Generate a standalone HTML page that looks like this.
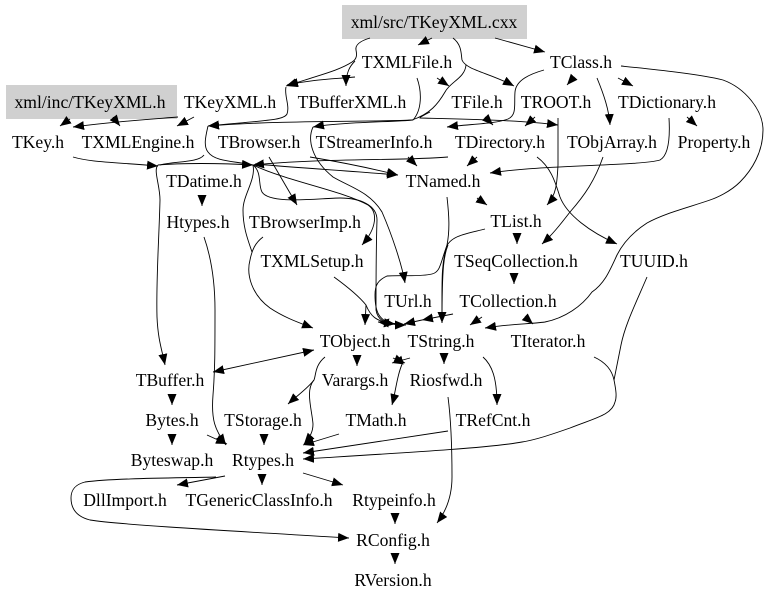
<!DOCTYPE html>
<html><head><meta charset="utf-8"><style>
html,body{margin:0;padding:0;background:#fff}
svg{display:block}
text{font-family:"Liberation Serif",serif;font-size:17.6px;text-anchor:middle;fill:#000}
path.e{fill:none;stroke:#000;stroke-width:.9;marker-end:url(#a)}
path.n{fill:none;stroke:#000;stroke-width:.9}
</style></head><body>
<svg width="779" height="601" viewBox="0 0 779 601" xmlns="http://www.w3.org/2000/svg">
<defs><marker id="a" markerUnits="userSpaceOnUse" markerWidth="12" markerHeight="10" refX="11" refY="4.5" orient="auto"><path d="M0,0L11,4.5L0,9z" fill="#000"/></marker>
<marker id="b" markerUnits="userSpaceOnUse" markerWidth="12" markerHeight="10" refX="11" refY="4.5" orient="auto-start-reverse"><path d="M0,0L11,4.5L0,9z" fill="#000"/></marker></defs>
<rect x="342" y="5" width="185" height="34" fill="#d0d0d0"/>
<rect x="6" y="85" width="171" height="34" fill="#d0d0d0"/>

<path class="e" d="M432,38L418,45"/>
<path class="e" d="M495,38L545,52"/>
<path class="n" d="M370,38C360,41 355,45 356,50C357,55 357,59 352,62"/>
<path class="e" d="M352,62C340,70 320,75 305,80L286,86"/>
<path class="e" d="M355,61C350,66 346,72 346,86"/>
<path class="e" d="M355,77C335,79 315,79 287,85"/>
<path class="e" d="M286,87C284,95 290,106 287,114C284,120 270,120 208,126"/>
<path class="e" d="M437,78L449,86"/>
<path class="e" d="M453,38C462,45 461,54 462,60C466,70 490,73 514,86"/>
<path class="e" d="M466,65C465,78 450,82 445,92C438,104 430,114 412,120C380,122 280,120 208,126"/>
<path class="e" d="M574,77L567,85"/>
<path class="e" d="M597,78C604,95 609,110 610,125"/>
<path class="e" d="M618,78L633,86"/>
<path class="e" d="M621,66C650,69 700,74 723,80C745,88 763,110 763,130C763,152 752,170 740,182C730,192 716,198 710,200C690,207 665,213 647,223C630,234 622,245 617,255C610,270 605,283 592,292C582,306 565,318 545,322C530,324 510,324 485,328"/>
<path class="e" d="M544,70C530,74 516,80 515,92C514,105 517,115 508,119C495,124 470,124 447,127"/>
<path class="e" d="M687,117L697,126"/>
<path class="e" d="M669,118C670,135 669,155 660,160C640,166 540,165 490,173"/>
<path class="e" d="M485,117L493,125"/>
<path class="e" d="M430,112C424,115 420,117 420,118C460,119 520,120 558,125"/>
<path class="e" d="M535,117L525,126"/>
<path class="e" d="M558,118L558,165C557,185 556,195 547,205"/>
<path class="e" d="M417,78C422,92 422,110 413,120C395,122 340,122 313,127"/>
<path class="e" d="M70,119L60,126"/>
<path class="e" d="M178,117C140,120 110,122 73,127"/>
<path class="e" d="M113,117L120,126"/>
<path class="e" d="M194,117L177,126"/>
<path class="e" d="M73,157C90,162 110,162 158,166"/>
<path class="e" d="M158,165C153,170 160,185 160,200C159,240 156,280 157,317C158,340 162,350 165,365"/>
<path class="e" d="M158,165C180,163 220,163 253,165"/>
<path class="n" d="M204,155C198,163 175,161 160,165"/>
<path class="n" d="M208,126C206,135 203,146 208,152C215,162 235,161 253,165"/>
<path class="e" d="M255,164C300,168 350,171 398,175"/>
<path class="e" d="M310,157C340,162 370,168 398,175"/>
<path class="e" d="M448,157C400,161 320,158 253,165"/>
<path class="e" d="M408,157L417,166"/>
<path class="e" d="M477,157L467,166"/>
<path class="e" d="M269,157L297,205"/>
<path class="e" d="M253,165C290,182 340,190 368,205C378,212 377,228 362,245"/>
<path class="e" d="M253,165C262,172 258,185 262,192C270,205 320,198 340,198C360,198 377,205 377,220C376,250 376,290 376,310C378,323 390,325 406,325"/>
<path class="n" d="M253,165C256,180 243,195 243,210C243,228 248,240 252,252"/>
<path class="e" d="M263,237C255,243 252,250 250,260C246,275 252,295 270,308C285,318 300,323 313,328"/>
<path class="e" d="M334,277C345,285 358,295 366,305L365,325"/>
<path class="e" d="M366,305C370,315 375,322 395,324"/>
<path class="e" d="M485,229C470,233 450,235 446,248C440,265 440,272 432,274C420,277 400,275 387,276C378,280 375,285 375,295C375,310 378,322 395,324"/>
<path class="e" d="M447,197C449,215 450,230 447,245C441,265 442,280 442,323"/>
<path class="n" d="M448,245C444,255 442,265 442,323"/>
<path class="e" d="M313,127C307,140 312,160 333,177C350,187 370,192 382,212C392,235 402,265 405,283"/>
<path class="e" d="M453,314L422,320"/>
<path class="e" d="M422,320L404,324"/>
<path class="e" d="M400,324L378,322"/>
<path class="e" d="M482,317L470,325"/>
<path class="e" d="M525,317L533,324"/>
<path class="e" d="M517,235L517,244"/>
<path class="e" d="M514,276L514,284"/>
<path class="e" d="M603,157C595,180 585,195 570,212C560,225 552,235 542,244"/>
<path class="e" d="M537,157C552,168 556,185 560,197C567,215 590,232 617,244"/>
<path class="e" d="M477,198L487,205"/>
<path class="e" d="M202,197L202,206"/>
<path class="e" d="M444,355L444,364"/>
<path class="e" d="M483,357C492,365 497,378 497,405"/>
<path class="e" d="M403,362C397,375 396,390 392,405"/>
<path class="e" d="M410,358L392,363"/>
<path class="e" d="M393,358L405,363"/>
<path class="e" d="M357,356L357,366"/>
<path class="e" d="M325,357C315,365 316,375 314,380C308,388 298,395 288,404"/>
<path class="e" d="M314,380C305,390 312,410 313,424C313,432 310,437 304,444"/>
<path class="e" style="marker-start:url(#b)" d="M213,372L314,350"/>
<path class="e" d="M204,237C212,260 215,285 215,310C215,350 215,370 213,395C211,420 215,430 226,445"/>
<path class="e" d="M172,396L172,405"/>
<path class="e" d="M172,435L172,445"/>
<path class="e" d="M207,435L227,444"/>
<path class="e" d="M264,435L264,445"/>
<path class="e" d="M339,434L303,445"/>
<path class="e" d="M448,431L303,453"/>
<path class="n" d="M594,357C605,362 612,370 614,380C616,390 617,397 615,402"/>
<path class="n" d="M647,277C635,305 625,325 621,345C618,360 616,370 614,380"/>
<path class="e" d="M615,402C612,415 595,418 570,428C550,435 535,440 522,442C490,448 400,453 303,459"/>
<path class="e" d="M448,397C451,420 452,445 452,477C452,495 447,510 437,523"/>
<path class="e" d="M225,476L177,485"/>
<path class="e" d="M262,475L262,485"/>
<path class="e" d="M303,473L343,485"/>
<path class="e" d="M216,477C180,478 115,478 85,482C73,485 71,492 71,498C71,510 78,517 90,520C120,525 250,532 349,538"/>
<path class="e" d="M395,514L395,524"/>
<path class="e" d="M395,554L395,564"/>

<text x="434" y="28">xml/src/TKeyXML.cxx</text>
<text x="407" y="68">TXMLFile.h</text>
<text x="581" y="68">TClass.h</text>
<text x="90" y="108">xml/inc/TKeyXML.h</text>
<text x="230" y="108">TKeyXML.h</text>
<text x="352" y="108">TBufferXML.h</text>
<text x="477" y="108">TFile.h</text>
<text x="556" y="108">TROOT.h</text>
<text x="667" y="108">TDictionary.h</text>
<text x="38" y="148">TKey.h</text>
<text x="138" y="148">TXMLEngine.h</text>
<text x="259" y="148">TBrowser.h</text>
<text x="374" y="148">TStreamerInfo.h</text>
<text x="500" y="148">TDirectory.h</text>
<text x="612" y="148">TObjArray.h</text>
<text x="714" y="148">Property.h</text>
<text x="204" y="187">TDatime.h</text>
<text x="443" y="187">TNamed.h</text>
<text x="198" y="228">Htypes.h</text>
<text x="305" y="228">TBrowserImp.h</text>
<text x="516" y="227">TList.h</text>
<text x="312" y="267">TXMLSetup.h</text>
<text x="516" y="267">TSeqCollection.h</text>
<text x="654" y="267">TUUID.h</text>
<text x="408" y="307">TUrl.h</text>
<text x="508" y="307">TCollection.h</text>
<text x="355" y="347">TObject.h</text>
<text x="441" y="347">TString.h</text>
<text x="548" y="347">TIterator.h</text>
<text x="170" y="386">TBuffer.h</text>
<text x="355" y="386">Varargs.h</text>
<text x="446" y="386">Riosfwd.h</text>
<text x="172" y="426">Bytes.h</text>
<text x="263" y="426">TStorage.h</text>
<text x="376" y="426">TMath.h</text>
<text x="493" y="426">TRefCnt.h</text>
<text x="172" y="466">Byteswap.h</text>
<text x="263" y="466">Rtypes.h</text>
<text x="125" y="506">DllImport.h</text>
<text x="259" y="506">TGenericClassInfo.h</text>
<text x="394" y="506">Rtypeinfo.h</text>
<text x="393" y="546">RConfig.h</text>
<text x="393" y="586">RVersion.h</text>
</svg>
</body></html>
